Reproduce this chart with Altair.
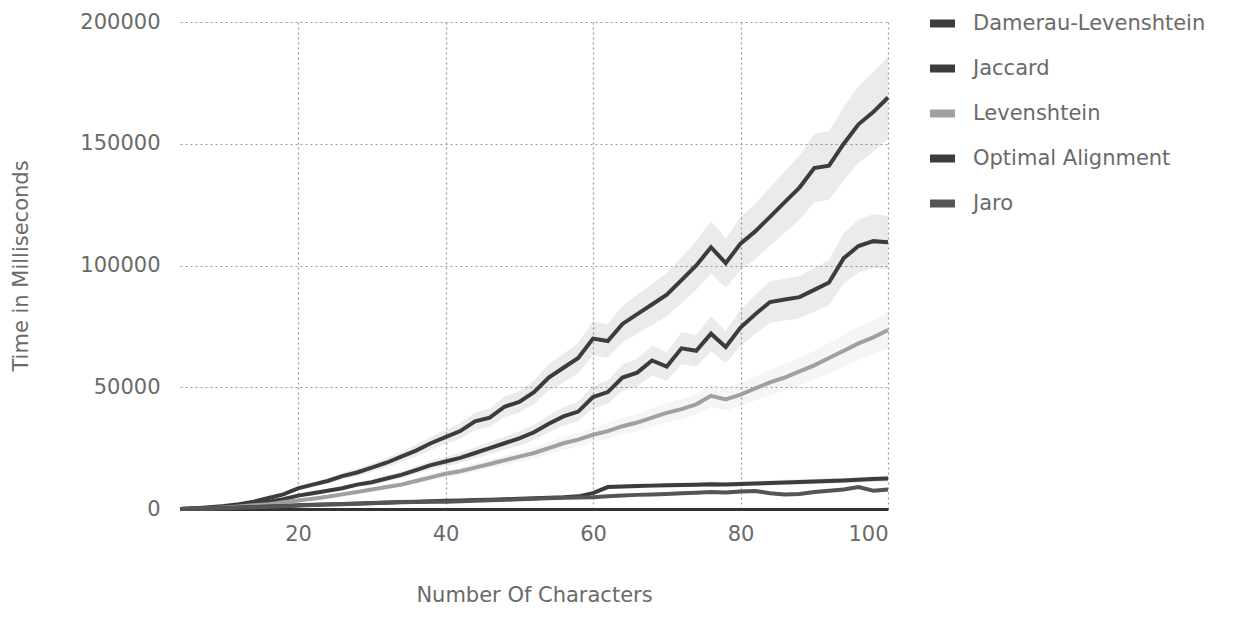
import altair as alt
import pandas as pd

x_chars = [4, 6, 8, 10, 12, 14, 16, 18, 20, 22, 24, 26, 28, 30, 32, 34, 36, 38, 40, 42,
           44, 46, 48, 50, 52, 54, 56, 58, 60, 62, 64, 66, 68, 70, 72, 74, 76, 78, 80, 82,
           84, 86, 88, 90, 92, 94, 96, 98, 100]

damerau = [0, 300, 700, 1200, 2000, 3000, 4500, 6000, 8500, 10000, 11500, 13500, 15000, 17000,
           19000, 21500, 24000, 27000, 29500, 32000, 36000, 37500, 42000, 44000, 48000, 54000,
           58000, 62000, 70000, 69000, 76000, 80000, 84000, 88000, 94000, 100000, 107500, 101000,
           109000, 114000, 120000, 126000, 132000, 140000, 141000, 150000, 158000, 163000, 169000]

jaccard = [0, 200, 500, 900, 1400, 2000, 3000, 4000, 5500, 6500, 7500, 8500, 10000, 11000,
           12500, 14000, 16000, 18000, 19500, 21000, 23000, 25000, 27000, 29000, 31500, 35000,
           38000, 40000, 46000, 48000, 54000, 56000, 61000, 58500, 66000, 65000, 72000, 66500,
           74500, 80000, 85000, 86000, 87000, 90000, 93000, 103000, 108000, 110000, 109500]

levenshtein = [0, 100, 300, 600, 1000, 1500, 2000, 2800, 3500, 4200, 5000, 6000, 7000, 8000,
               9000, 10000, 11500, 13000, 14500, 15500, 17000, 18500, 20000, 21500, 23000, 25000,
               27000, 28500, 30500, 32000, 34000, 35500, 37500, 39500, 41000, 43000, 46500, 45000,
               47000, 49500, 52000, 54000, 56500, 59000, 62000, 65000, 68000, 70500, 73500]

optimal = [0, 100, 200, 400, 600, 800, 1000, 1200, 1500, 1700, 1900, 2100, 2300, 2500,
           2700, 2900, 3000, 3200, 3400, 3500, 3700, 3800, 4000, 4200, 4400, 4600,
           4800, 5200, 6500, 9000, 9200, 9400, 9600, 9800, 9900, 10000, 10200, 10100,
           10300, 10500, 10700, 10900, 11100, 11300, 11500, 11700, 12000, 12300, 12500]

jaro = [0, 100, 200, 350, 550, 750, 950, 1150, 1400, 1600, 1800, 2000, 2200, 2400,
        2600, 2750, 2850, 2950, 3000, 3200, 3400, 3600, 3800, 4000, 4200, 4400,
        4600, 4700, 4800, 5200, 5500, 5800, 6000, 6200, 6500, 6700, 7000, 6800,
        7200, 7400, 6500, 6000, 6200, 7000, 7500, 8000, 9000, 7500, 8000]

series_names = ["Damerau-Levenshtein", "Jaccard", "Levenshtein", "Optimal Alignment", "Jaro"]
series_colors = ["#3c3c3c", "#3c3c3c", "#a0a0a0", "#3c3c3c", "#555555"]
x_ticks = [20, 40, 60, 80, 100]
y_ticks = [0, 50000, 100000, 150000, 200000]

values = [damerau, jaccard, levenshtein, optimal, jaro]
rows = []
for name, vals in zip(series_names, values):
    for xv, yv in zip(x_chars, vals):
        rows.append({"chars": xv, "ms": yv, "algo": name})
df = pd.DataFrame(rows)

FONT = "DejaVu Sans"
TXT = "#6a6a6a"

legend = alt.Legend(title=None, orient="none", legendX=746, legendY=-15,
                    symbolType="stroke", symbolStrokeWidth=8, symbolSize=625,
                    labelFontSize=21, labelFont=FONT, labelColor=TXT,
                    labelOffset=14, rowPadding=12, labelLimit=400)
cscale = alt.Scale(domain=series_names, range=series_colors)
color = alt.Color("algo:N", sort=series_names, scale=cscale, legend=legend)
color_nolegend = alt.Color("algo:N", sort=series_names, scale=cscale, legend=None)

xenc = alt.X("chars:Q", scale=alt.Scale(domain=[4, 100], nice=False, zero=False),
             axis=alt.Axis(title="Number Of Characters", values=x_ticks, ticks=False,
                           labelPadding=14, titlePadding=40, domain=True,
                           domainColor="#333333", domainWidth=3,
                           gridColor="#9a9a9a", gridDash=[2, 3], gridWidth=1.2))
yenc = alt.Y("ms:Q", scale=alt.Scale(domain=[0, 200000], nice=False),
             axis=alt.Axis(title="Time in Milliseconds", values=y_ticks, ticks=False,
                           labelPadding=20, titlePadding=48, domain=False, format="d",
                           gridColor="#9a9a9a", gridDash=[2, 3], gridWidth=1.2))

base = alt.Chart(df)

band = base.transform_calculate(
    lo="datum.ms * 0.9", hi="datum.ms * 1.1"
).mark_area(opacity=0.1).encode(
    x=xenc, y=alt.Y("lo:Q", scale=alt.Scale(domain=[0, 200000], nice=False)), y2="hi:Q",
    color=color_nolegend, detail="algo:N")

lines = base.mark_line(strokeWidth=4).encode(x=xenc, y=yenc, color=color)

chart = alt.layer(band, lines).resolve_legend(color="independent").properties(
    width=708, height=487,
    autosize=alt.AutoSizeParams(type="none"),
    padding={"left": 172, "top": 14, "right": 336, "bottom": 100},
).configure_view(stroke=None).configure_axis(
    labelFont=FONT, titleFont=FONT, labelFontSize=21, titleFontSize=21,
    labelColor=TXT, titleColor=TXT, titleFontWeight="normal"
)

chart.save("out.html", embed_options={"renderer": "svg", "actions": False})
